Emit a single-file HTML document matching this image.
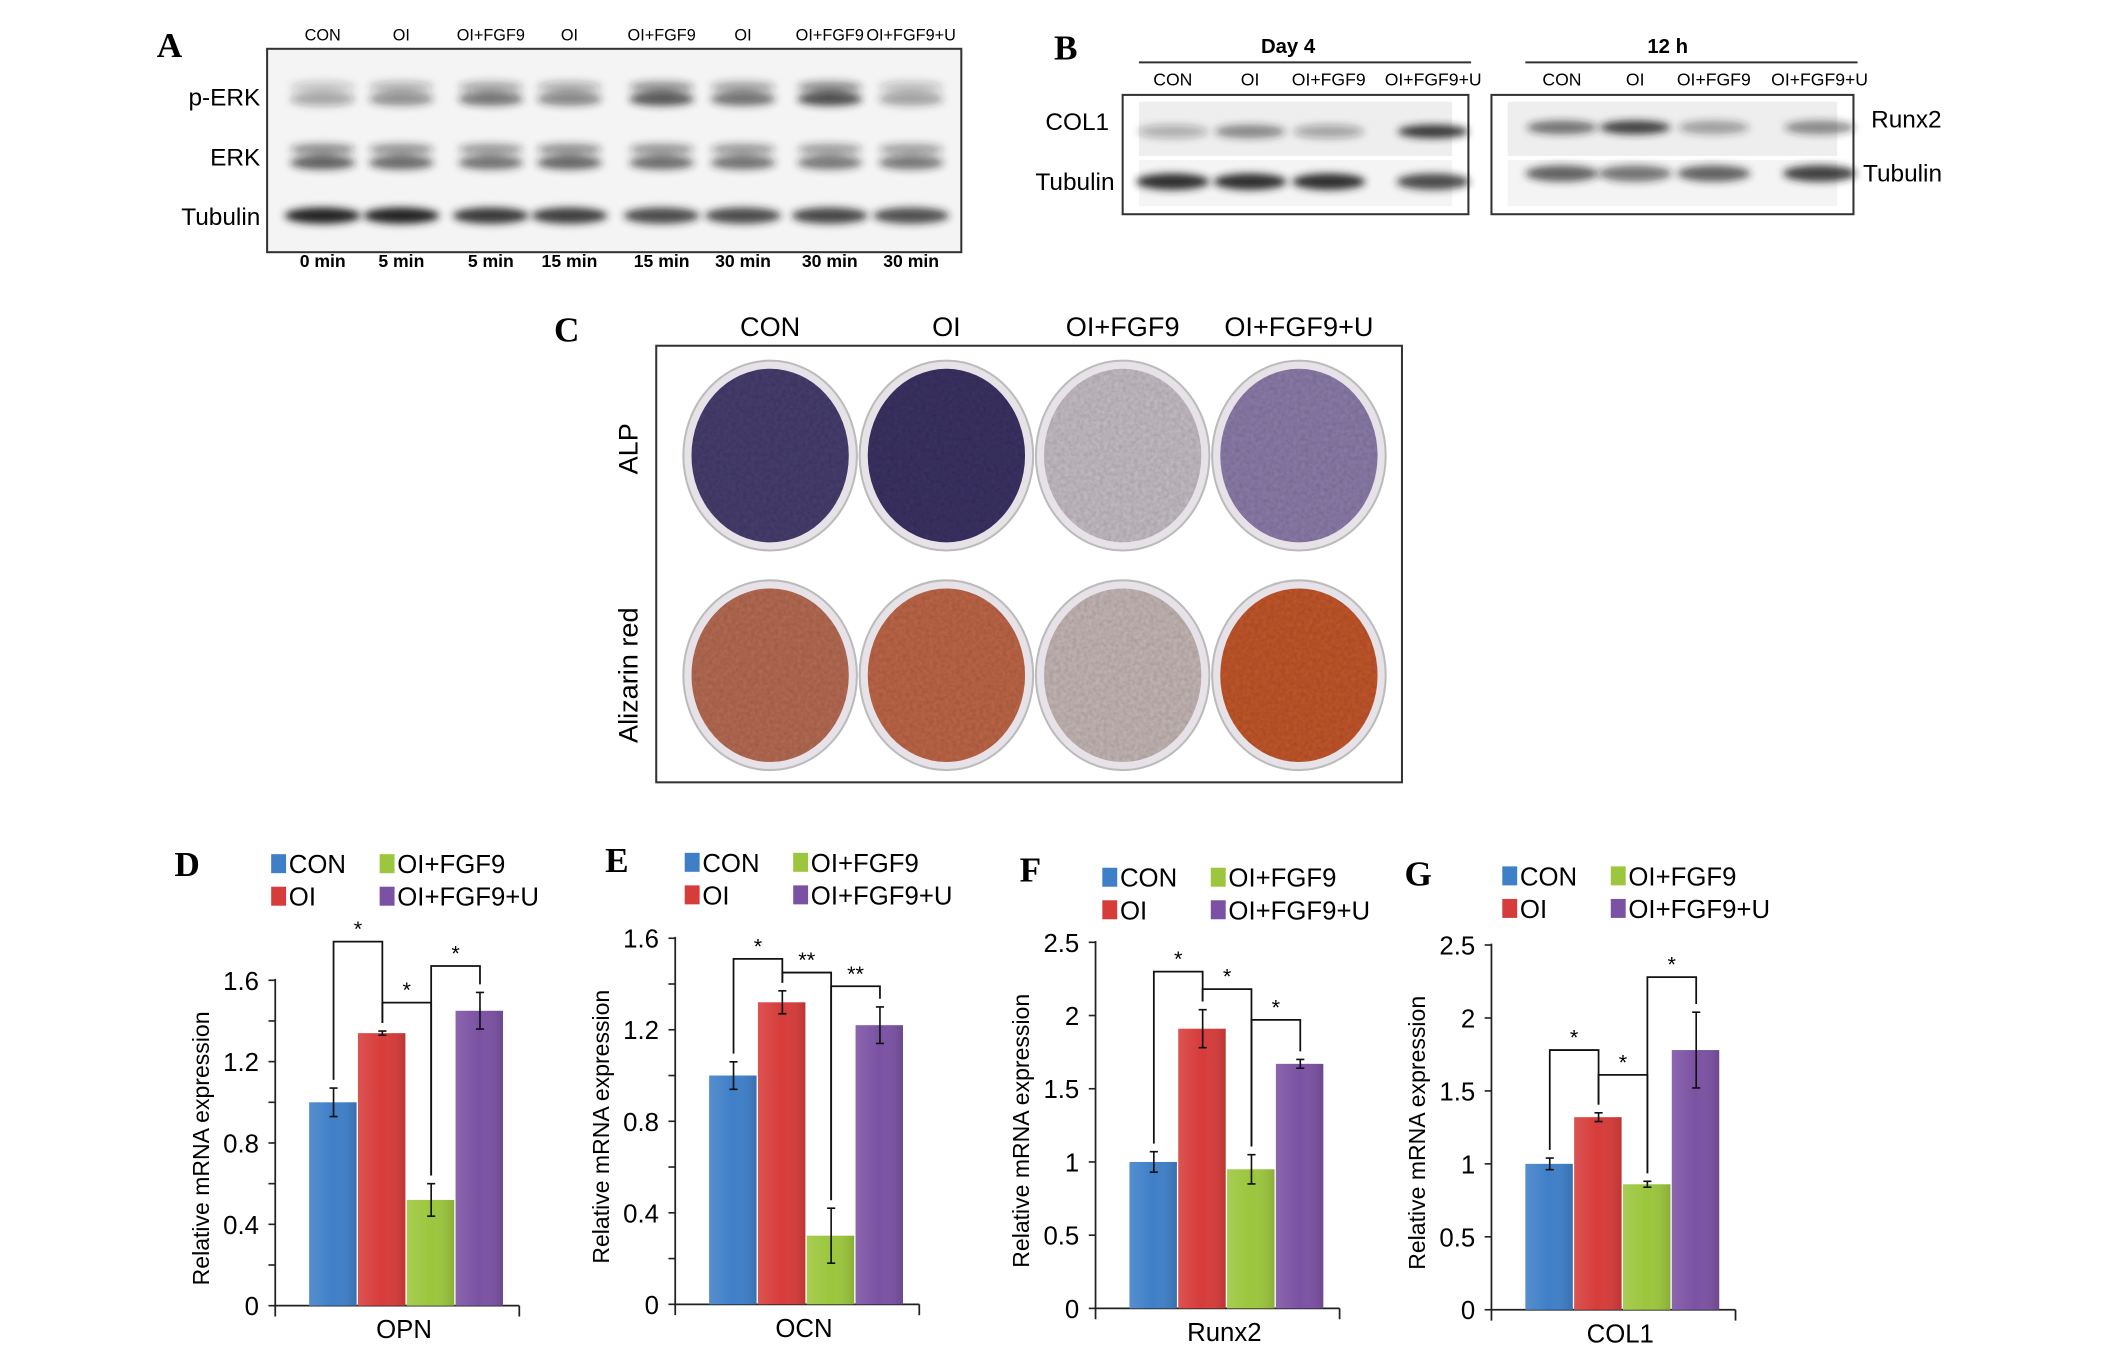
<!DOCTYPE html>
<html><head><meta charset="utf-8"><style>
html,body{margin:0;padding:0;background:#fff;}
svg{display:block;font-family:"Liberation Sans",sans-serif;}
.lbl{font-family:"Liberation Serif",serif;font-weight:bold;}
</style></head><body>
<svg id="fig" width="2126" height="1345" viewBox="0 0 1568 992" preserveAspectRatio="none">
<defs>
<filter id="blur" x="-20%" y="-50%" width="140%" height="200%"><feGaussianBlur stdDeviation="3"/></filter>
<filter id="tex"><feTurbulence type="fractalNoise" baseFrequency="0.35" numOctaves="2" result="n"/><feColorMatrix in="n" type="matrix" values="0 0 0 0 0  0 0 0 0 0  0 0 0 0 0  0 0 0 0.35 0" result="m"/><feComposite in="m" in2="SourceGraphic" operator="in" result="c"/><feMerge><feMergeNode in="SourceGraphic"/><feMergeNode in="c"/></feMerge></filter>
<linearGradient id="gshade" x1="0" y1="0" x2="1" y2="0"><stop offset="0" stop-color="#fff" stop-opacity="0.12"/><stop offset="0.5" stop-color="#fff" stop-opacity="0"/><stop offset="1" stop-color="#000" stop-opacity="0.12"/></linearGradient>
</defs>
<g id="panelA"></g>
<g id="panelB"></g>
<g id="panelC"></g>
<g id="charts"></g>
</svg>
<script>
const NS="http://www.w3.org/2000/svg";
function mk(tag,attrs,parent,txt){const e=document.createElementNS(NS,tag);for(const k in attrs)e.setAttribute(k,attrs[k]);if(txt!==undefined)e.textContent=txt;parent.appendChild(e);return e;}

// ---------- Panel A ----------
const aLanes=["CON","OI","OI+FGF9","OI","OI+FGF9","OI","OI+FGF9","OI+FGF9+U"];
const aTimes=["0 min","5 min","5 min","15 min","15 min","30 min","30 min","30 min"];
const aPERK=[0.45,0.6,0.75,0.65,0.95,0.8,1.0,0.5];
const aERK=[0.85,0.8,0.75,0.82,0.78,0.75,0.72,0.7];
const aTub=[1.0,1.0,0.9,0.88,0.8,0.8,0.82,0.78];
const aX=[238,296,362,420,488,548,612,672];
const A=document.getElementById('panelA');
let t=mk('text',{x:125,y:42,'font-size':26,'text-anchor':'middle',class:'lbl'},A,'A');

let r=mk('rect',{x:197,y:36,width:512,height:150,fill:'#f4f4f4',stroke:'#333','stroke-width':1.5},A);

aLanes.forEach((s,i)=>{let e=mk('text',{x:aX[i],y:30,'font-size':12,'text-anchor':'middle'},A,s);
 let f=mk('text',{x:aX[i],y:197,'font-size':13,'font-weight':'bold','text-anchor':'middle'},A,aTimes[i]);
 const g=mk('g',{filter:'url(#blur)'},A);
 mk('ellipse',{cx:aX[i],cy:73,rx:24,ry:5,fill:'#222','fill-opacity':aPERK[i]*0.8},g);
 mk('ellipse',{cx:aX[i],cy:64,rx:24,ry:4,fill:'#222','fill-opacity':aPERK[i]*0.5},g);
 mk('ellipse',{cx:aX[i],cy:120,rx:24,ry:5,fill:'#222','fill-opacity':aERK[i]*0.85},g);
 mk('ellipse',{cx:aX[i],cy:110,rx:24,ry:4,fill:'#222','fill-opacity':aERK[i]*0.6},g);
 mk('ellipse',{cx:aX[i],cy:159,rx:28,ry:6,fill:'#222','fill-opacity':aTub[i]},g);
});
[["p-ERK",72],["ERK",116],["Tubulin",160]].forEach(([s,y])=>{let e=mk('text',{x:192,y:y+6,'font-size':18,'text-anchor':'end'},A,s);});

// ---------- Panel B ----------
const B=document.getElementById('panelB');
t=mk('text',{x:786,y:44,'font-size':26,'text-anchor':'middle',class:'lbl'},B,'B');
const bLanes=["CON","OI","OI+FGF9","OI+FGF9+U"];
const bCol=[0.3,0.5,0.35,0.9];
const bTub1=[0.95,0.95,0.95,0.8];
const bRunx=[0.6,0.85,0.4,0.5];
const bTub2=[0.7,0.6,0.7,0.85];
[[828,840,1085,950,"Day 4",[865,922,980,1057],bCol,bTub1],[1100,1125,1370,1230,"12 h",[1152,1206,1264,1342],bRunx,bTub2]].forEach(([bx,l1,l2,tx,title,xs,v1,v2],k)=>{
 let e=mk('text',{x:tx,y:39,'font-size':15,'font-weight':'bold','text-anchor':'middle'},B,title);
 mk('line',{x1:l1,y1:46,x2:l2,y2:46,stroke:'#333','stroke-width':1.5},B);
 let rr=mk('rect',{x:bx,y:70,width:k?267:255,height:88,fill:'#fff',stroke:'#333','stroke-width':1.5},B);
 mk('rect',{x:bx+12,y:75,width:k?243:231,height:40,fill:'#eee'},B);
 mk('rect',{x:bx+12,y:118,width:k?243:231,height:34,fill:'#f4f4f4'},B);
 xs.forEach((x,i)=>{let e2=mk('text',{x:x,y:63,'font-size':13,'text-anchor':'middle'},B,bLanes[i]);
  mk('ellipse',{cx:x,cy:k?94:97,rx:26,ry:5,fill:'#222','fill-opacity':v1[i],filter:'url(#blur)'},B);
  mk('ellipse',{cx:x,cy:k?128:134,rx:27,ry:6,fill:'#222','fill-opacity':v2[i],filter:'url(#blur)'},B);});
});
[["COL1",818,90,'end'],["Tubulin",822,134,'end'],["Runx2",1380,88,'start'],["Tubulin",1374,128,'start']].forEach(([s,x,y,a])=>{let e=mk('text',{x:x,y:y+6,'font-size':18,'text-anchor':a},B,s);});

// ---------- Panel C ----------
const C=document.getElementById('panelC');
t=mk('text',{x:418,y:252,'font-size':26,'text-anchor':'middle',class:'lbl'},C,'C');
const cHead=["CON","OI","OI+FGF9","OI+FGF9+U"];
const cX=[568,698,828,958];
const alp=["#4a3f70","#3e3465","#c6c0c6","#8c7eab"];
const aliz=["#b86d55","#c06749","#c6b8b7","#c4582f"];
cHead.forEach((s,i)=>{let e=mk('text',{x:cX[i],y:248,'font-size':20,'text-anchor':'middle'},C,s);});
r=mk('rect',{x:484,y:255,width:550,height:322,fill:'#fff',stroke:'#333','stroke-width':1.5},C);
cX.forEach((x,i)=>{
 [[336,alp[i],'alp-well'],[498,aliz[i],'alizarin-well']].forEach(([y,c,n])=>{
  mk('ellipse',{cx:x,cy:y,rx:64,ry:70,fill:'#e6e2e8',stroke:'#bbb','stroke-width':1.5},C);
  let e=mk('ellipse',{cx:x,cy:y,rx:58,ry:64,fill:c,filter:'url(#tex)'},C);
 });
});
t=mk('text',{x:0,y:0,'font-size':20,'text-anchor':'middle',transform:'translate(470,331) rotate(-90)'},C,'ALP');
t=mk('text',{x:0,y:0,'font-size':20,'text-anchor':'middle',transform:'translate(470,498) rotate(-90)'},C,'Alizarin red');

// ---------- Bar charts ----------
const seriesNames=["CON","OI","OI+FGF9","OI+FGF9+U"];
const colors=["#3f7fc8","#d63c3a","#9cc63d","#7b52a3"];
const opnVals=[1.0,1.34,0.52,1.45];
const opnErr=[0.07,0.01,0.08,0.09];
const ocnVals=[1.0,1.32,0.30,1.22];
const ocnErr=[0.06,0.05,0.12,0.08];
const runxVals=[1.0,1.91,0.95,1.67];
const runxErr=[0.07,0.13,0.10,0.03];
const colVals=[1.0,1.32,0.86,1.78];
const colErr=[0.04,0.03,0.02,0.26];
const opnTicks=["0","0.4","0.8","1.2","1.6"];
const ocnTicks=["0","0.4","0.8","1.2","1.6"];
const runxTicks=["0","0.5","1","1.5","2","2.5"];
const colTicks=["0","0.5","1","1.5","2","2.5"];
const opnSig=[[0,1,1.79,"*"],[1,2,1.49,"*"],[2,3,1.67,"*"]];
const ocnSig=[[0,1,1.51,"*"],[1,2,1.45,"**"],[2,3,1.39,"**"]];
const runxSig=[[0,1,2.30,"*"],[1,2,2.18,"*"],[2,3,1.97,"*"]];
const colSig=[[0,1,1.78,"*"],[1,2,1.61,"*"],[2,3,2.28,"*"]];

const panels=[
 {L:"D",lx:138,ly:646,legX:200,legY:637,ax:203,y0:963,yTop:723,max:1.6,minor:0.2,ticks:opnTicks,vals:opnVals,err:opnErr,sig:opnSig,cat:"OPN",n:'opn'},
 {L:"E",lx:455,ly:643,legX:505,legY:636,ax:498,y0:962,yTop:692,max:1.6,minor:0.2,ticks:ocnTicks,vals:ocnVals,err:ocnErr,sig:ocnSig,cat:"OCN",n:'ocn'},
 {L:"F",lx:760,ly:650,legX:813,legY:647,ax:808,y0:965,yTop:695,max:2.5,minor:0.5,ticks:runxTicks,vals:runxVals,err:runxErr,sig:runxSig,cat:"Runx2",n:'runx2'},
 {L:"G",lx:1046,ly:653,legX:1108,legY:646,ax:1100,y0:966,yTop:697,max:2.5,minor:0.5,ticks:colTicks,vals:colVals,err:colErr,sig:colSig,cat:"COL1",n:'col1'}
];
const CH=document.getElementById('charts');
panels.forEach(p=>{
 const g=mk('g',{},CH);
 
 
 const Y=v=>p.y0-(v/p.max)*(p.y0-p.yTop);
 const bw=36, x0=p.ax+25;
 const X=i=>x0+i*bw;
 let e=mk('text',{x:p.lx,y:p.ly,'font-size':26,'text-anchor':'middle',class:'lbl'},g,p.L);
 
 
 seriesNames.forEach((s,i)=>{
  const lx=p.legX+(i>=2?80:0), ly=p.legY+(i%2)*24;
  const lg=mk('g',{},g);
  
  
  mk('rect',{x:lx,y:ly-7,width:11,height:14,fill:colors[i]},lg);
  mk('text',{x:lx+13,y:ly+7,'font-size':19},lg,s);
 });
 const axisEnd=p.ax+180;
 mk('line',{x1:p.ax,y1:Y(p.max)-1,x2:p.ax,y2:p.y0+8,stroke:'#222','stroke-width':1.3},g);
 mk('line',{x1:p.ax,y1:p.y0,x2:axisEnd,y2:p.y0,stroke:'#222','stroke-width':1.3},g);
 mk('line',{x1:axisEnd,y1:p.y0,x2:axisEnd,y2:p.y0+8,stroke:'#222','stroke-width':1.3},g);
 for(let v=0;v<=p.max+1e-9;v+=p.minor){mk('line',{x1:p.ax-5,y1:Y(v),x2:p.ax,y2:Y(v),stroke:'#222','stroke-width':1.2},g);}
 p.ticks.forEach(s=>{let tt=mk('text',{x:p.ax-12,y:Y(parseFloat(s))+7,'font-size':19,'text-anchor':'end'},g,s);
  
  });
 e=mk('text',{x:0,y:0,'font-size':17,'text-anchor':'middle',transform:`translate(${p.ax-49},${(p.y0+Y(p.max))/2+4}) rotate(-90)`},g,'Relative mRNA expression');
 
 
 e=mk('text',{x:p.ax+95,y:p.y0+24,'font-size':19,'text-anchor':'middle'},g,p.cat);
 
 
 p.vals.forEach((v,i)=>{
  const b=mk('rect',{x:X(i),y:Y(v),width:bw-1,height:p.y0-Y(v),fill:colors[i]},g);
  
  
  mk('rect',{x:X(i),y:Y(v),width:bw-1,height:p.y0-Y(v),fill:'url(#gshade)'},g);
  const cx=X(i)+bw/2, e1=Y(v+p.err[i]), e2=Y(v-p.err[i]);
  const eb=mk('path',{d:`M${cx},${e1}V${e2}M${cx-3},${e1}H${cx+3}M${cx-3},${e2}H${cx+3}`,stroke:'#111','stroke-width':1.2,fill:'none'},g);
  
  
 });
 p.sig.forEach(([a,b,lev,s])=>{
  const xa=X(a)+bw/2, xb=X(b)+bw/2, yl=Y(lev);
  const ya=Y(p.vals[a]+p.err[a])-6, yb=Y(p.vals[b]+p.err[b])-6;
  const br=mk('path',{d:`M${xa},${ya}V${yl}H${xb}V${yb}`,stroke:'#111','stroke-width':1.3,fill:'none'},g);
  
  
  mk('text',{x:(xa+xb)/2,y:yl-4,'font-size':16,'text-anchor':'middle'},g,s);
 });
});
</script>
</body></html>
